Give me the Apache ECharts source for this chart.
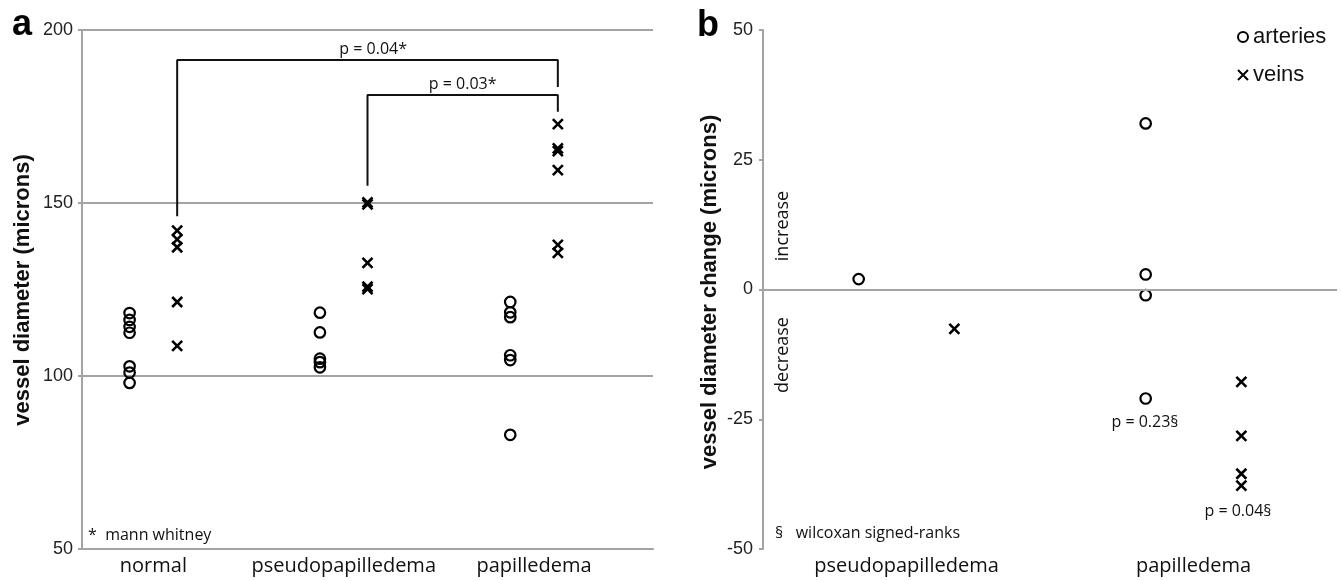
<!DOCTYPE html>
<html>
<head>
<meta charset="utf-8">
<script src="https://cdn.jsdelivr.net/npm/echarts@6/dist/echarts.min.js"></script>
<style>
html, body { margin: 0; background: #fff; }
#chart { width: 1342px; height: 581px; }
</style>
</head>
<body>
<div id="chart"></div>
<script>
// panel a: vessel diameter per group
var groupsA = ['normal', 'pseudopapilledema', 'papilledema'];
var arteriesA = [
    [118.2, 116.2, 114.2, 112.5, 102.8, 101, 98],
    [118.3, 112.6, 105, 104, 102.5],
    [121.4, 118.4, 117, 106, 104.6, 83]
];
var veinsA = [
    [142, 139.5, 137.2, 121.4, 108.7],
    [150.2, 149.6, 132.7, 125.8, 125.1],
    [172.8, 165.8, 165, 159.5, 137.9, 135.6]
];
// significance brackets: from group, to group, low end, top, right end
var bracketFrom = [0, 1];
var bracketTo = [2, 2];
var bracketLow = [146.2, 155];
var bracketTop = [191.3, 181.2];
var bracketEnd = [183.5, 176.4];
var bracketText = ['p = 0.04*', 'p = 0.03*'];

// panel b: change in diameter
var groupsB = ['pseudopapilledema', 'papilledema'];
var arteriesB = [[2.0], [32.0, 2.9, -1.1, -21.0]];
var veinsB = [[-7.6], [-17.8, -28.2, -35.5, -37.8]];

var chart = echarts.init(document.getElementById('chart'));

var gray = '#a3a3a3';
var ink = '#111';
var crossPath = 'path://M0,0L10,10M10,0L0,10';

function points(groups, offset) {
    var out = [];
    groups.forEach(function (vals, k) {
        vals.forEach(function (v) { out.push([k + offset, v]); });
    });
    return out;
}

function labelAt(list, offset) {
    return function (v) {
        var k = Math.round(v - offset);
        if (Math.abs(v - offset - k) < 1e-6 && list[k] !== undefined) return list[k];
        return '';
    };
}

var circleStyle = { color: 'rgba(0,0,0,0)', borderColor: '#000', borderWidth: 2.2, opacity: 1 };
var crossStyle = { color: 'rgba(0,0,0,0)', borderColor: '#000', borderWidth: 2.6, opacity: 1 };

var series = [
    {
        name: 'arteries', type: 'scatter', xAxisIndex: 0, yAxisIndex: 0,
        symbol: 'circle', symbolSize: 10.5, itemStyle: circleStyle,
        data: points(arteriesA, 0.25)
    },
    {
        name: 'veins', type: 'scatter', xAxisIndex: 0, yAxisIndex: 0,
        symbol: crossPath, symbolSize: 10, itemStyle: crossStyle,
        data: points(veinsA, 0.5)
    },
    {
        name: 'arteries', type: 'scatter', xAxisIndex: 1, yAxisIndex: 1,
        symbol: 'circle', symbolSize: 10.5, itemStyle: circleStyle,
        data: points(arteriesB, 1 / 3),
        markLine: {
            silent: true, symbol: ['none', 'none'], label: { show: false },
            lineStyle: { color: gray, width: 2, type: 'solid' },
            data: [{ yAxis: 0 }]
        }
    },
    {
        name: 'veins', type: 'scatter', xAxisIndex: 1, yAxisIndex: 1,
        symbol: crossPath, symbolSize: 10, itemStyle: crossStyle,
        data: points(veinsB, 2 / 3)
    }
];

bracketFrom.forEach(function (f, i) {
    var x0 = f + 0.5, x1 = bracketTo[i] + 0.5;
    series.push({
        type: 'line', xAxisIndex: 0, yAxisIndex: 0, silent: true,
        symbol: 'none', lineStyle: { color: ink, width: 2 }, z: 1,
        data: [[x0, bracketLow[i]], [x0, bracketTop[i]], [x1, bracketTop[i]], [x1, bracketEnd[i]]],
        markPoint: {
            symbol: 'rect', symbolSize: 0,
            label: {
                show: true, formatter: bracketText[i], color: ink,
                fontFamily: 'Open Sans', fontSize: 16, offset: [0, -11]
            },
            data: [{ coord: [(x0 + x1) / 2 + (i === 0 ? 0.03 : 0), bracketTop[i]] }]
        }
    });
});

var tickFont = { color: '#222', fontFamily: 'Liberation Sans', fontSize: 18 };
var catFont = { color: ink, fontFamily: 'Open Sans', fontSize: 20 };
var noteFont = '16px "Open Sans"';

chart.setOption({
    animation: false,
    grid: [
        { left: 82, top: 30, width: 571, height: 519 },
        { left: 763, top: 30, width: 574, height: 519 }
    ],
    xAxis: [
        {
            type: 'value', gridIndex: 0, min: 0, max: 3, interval: 0.125,
            axisLine: { onZero: false, lineStyle: { color: gray, width: 2 } },
            axisTick: { show: false }, splitLine: { show: false },
            axisLabel: Object.assign({ margin: 7, formatter: labelAt(groupsA, 0.375) }, catFont)
        },
        {
            type: 'value', gridIndex: 1, min: 0, max: 2, interval: 0.5,
            axisLine: { show: false, onZero: false },
            axisTick: { show: false }, splitLine: { show: false },
            axisLabel: Object.assign({ margin: 7, formatter: labelAt(groupsB, 0.5) }, catFont)
        }
    ],
    yAxis: [
        {
            type: 'value', gridIndex: 0, min: 50, max: 200, interval: 50,
            axisLine: { show: true, lineStyle: { color: gray, width: 2 } },
            axisTick: { show: true, length: 4, lineStyle: { color: gray, width: 2 } },
            splitLine: { show: true, lineStyle: { color: gray, width: 2 } },
            axisLabel: Object.assign({ margin: 9 }, tickFont)
        },
        {
            type: 'value', gridIndex: 1, min: -50, max: 50, interval: 25,
            axisLine: { show: true, lineStyle: { color: gray, width: 2 } },
            axisTick: { show: true, length: 4, lineStyle: { color: gray, width: 2 } },
            splitLine: { show: false },
            axisLabel: Object.assign({ margin: 10 }, tickFont)
        }
    ],
    legend: {
        data: ['arteries', 'veins'], orient: 'vertical', left: 1232, top: 20,
        itemWidth: 10, itemHeight: 10, itemGap: 14, selectedMode: false,
        textStyle: { fontFamily: 'Liberation Sans', fontSize: 22, color: ink, lineHeight: 24 }
    },
    graphic: [
        { type: 'text', x: 12, y: 25, style: { text: 'a', font: 'bold 36px "Liberation Sans"', fill: '#000', verticalAlign: 'middle' } },
        { type: 'text', x: 697, y: 26, style: { text: 'b', font: 'bold 36px "Liberation Sans"', fill: '#000', verticalAlign: 'middle' } },
        { type: 'text', x: 23, y: 290, rotation: Math.PI / 2,
          style: { text: 'vessel diameter (microns)', font: 'bold 22px "Liberation Sans"', fill: ink, align: 'center', verticalAlign: 'middle' } },
        { type: 'text', x: 710, y: 292, rotation: Math.PI / 2,
          style: { text: 'vessel diameter change (microns)', font: 'bold 22px "Liberation Sans"', fill: ink, align: 'center', verticalAlign: 'middle' } },
        { type: 'text', x: 88, y: 535, style: { text: '*  mann whitney', font: noteFont, fill: ink, verticalAlign: 'middle' } },
        { type: 'text', x: 775, y: 533, style: { text: '§   wilcoxan signed-ranks', font: noteFont, fill: ink, verticalAlign: 'middle' } },
        { type: 'text', x: 783, y: 226, rotation: Math.PI / 2,
          style: { text: 'increase', font: '18px "Open Sans"', fill: ink, align: 'center', verticalAlign: 'middle' } },
        { type: 'text', x: 783, y: 355, rotation: Math.PI / 2,
          style: { text: 'decrease', font: '18px "Open Sans"', fill: ink, align: 'center', verticalAlign: 'middle' } },
        { type: 'text', x: 1145, y: 422, style: { text: 'p = 0.23§', font: noteFont, fill: ink, align: 'center', verticalAlign: 'middle' } },
        { type: 'text', x: 1238, y: 511, style: { text: 'p = 0.04§', font: noteFont, fill: ink, align: 'center', verticalAlign: 'middle' } }
    ],
    series: series
});
</script>
</body>
</html>
